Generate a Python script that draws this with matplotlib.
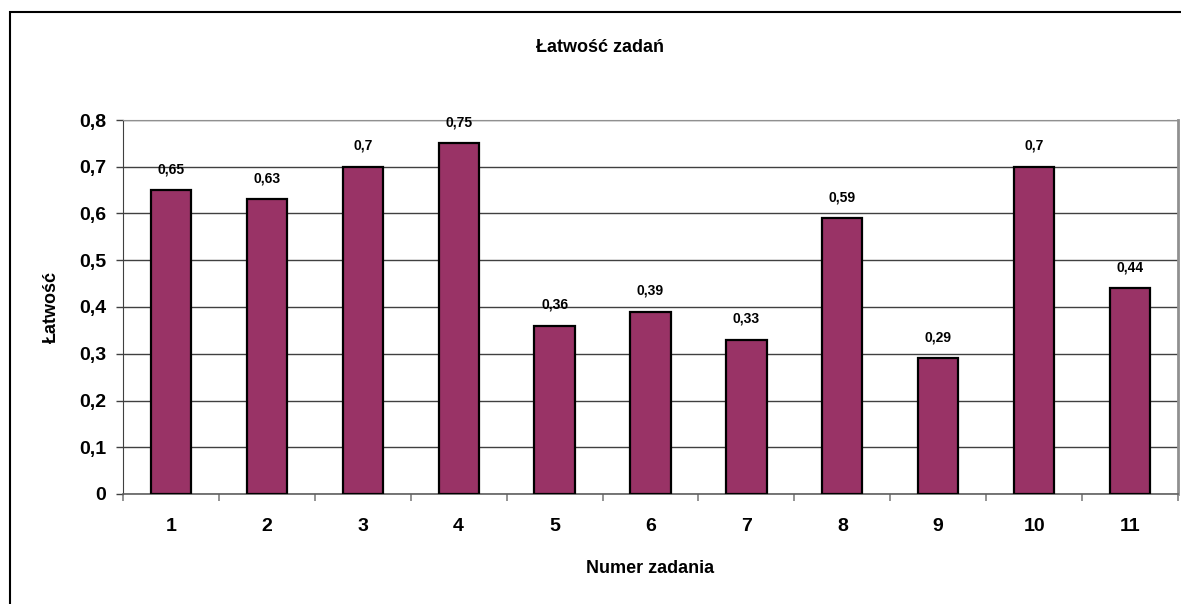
import matplotlib.pyplot as plt
from matplotlib.patches import Rectangle
from matplotlib.ticker import MultipleLocator, FixedLocator
import numpy as np

plt.rcParams['font.family'] = ['Liberation Sans', 'DejaVu Sans']
plt.rcParams['font.weight'] = 'bold'

zadania = ['1', '2', '3', '4', '5', '6', '7', '8', '9', '10', '11']
latwosc = [0.65, 0.63, 0.70, 0.75, 0.36, 0.39, 0.33, 0.59, 0.29, 0.70, 0.44]
etykiety = ['0,65', '0,63', '0,7', '0,75', '0,36', '0,39', '0,33', '0,59', '0,29', '0,7', '0,44']

fig = plt.figure(figsize=(11.81, 6.04), dpi=100, facecolor='white')
ax = fig.add_axes([123 / 1181, 1 - 494 / 604, (1178 - 123) / 1181, (494 - 120) / 604])

x = np.arange(len(zadania))
ax.bar(x, latwosc, width=0.42, color='#993366', edgecolor='black', linewidth=1.6, zorder=3)

for xi, v, lab in zip(x, latwosc, etykiety):
    ax.annotate(lab, (xi, v), xytext=(0, 15), textcoords='offset points',
                ha='center', va='center', fontsize=10, fontweight='bold')

ax.set_xlim(-0.5, len(zadania) - 0.5)
ax.set_ylim(0, 0.8)
ax.yaxis.set_major_locator(MultipleLocator(0.1))
ax.set_yticklabels([f'{t:.1f}'.replace('.', ',').replace('0,0', '0') for t in ax.get_yticks()])
ax.set_xticks(x)
ax.set_xticklabels(zadania)
ax.xaxis.set_minor_locator(FixedLocator(np.arange(-0.5, len(zadania), 1)))

ax.grid(axis='y', color='#404040', linewidth=1, zorder=0)
ax.tick_params(axis='x', which='major', length=0, pad=17, labelsize=14)
ax.tick_params(axis='x', which='minor', length=5, color='#808080', width=1.2)
ax.tick_params(axis='y', length=5, color='#404040', width=1, labelsize=14, pad=7)

ax.spines['top'].set_color('#909090')
ax.spines['right'].set_color('#909090')
ax.spines['right'].set_linewidth(2)
ax.spines['left'].set_color('#404040')
ax.spines['bottom'].set_color('#606060')
ax.spines['bottom'].set_linewidth(1.2)

ax.set_ylabel('Łatwość', fontsize=13, fontweight='bold', labelpad=14)
ax.set_xlabel('Numer zadania', fontsize=13, fontweight='bold', labelpad=18)
fig.text(0.508, 1 - 47 / 604, 'Łatwość zadań', ha='center', va='center', fontsize=13, fontweight='bold')

# ramka wykresu
fig.patches.append(Rectangle((10 / 1181, -0.05), 1.2, 1 - 12 / 604 + 0.05, transform=fig.transFigure,
                             fill=False, edgecolor='black', linewidth=1.5))

fig.savefig('out.png', dpi=100, facecolor='white')
